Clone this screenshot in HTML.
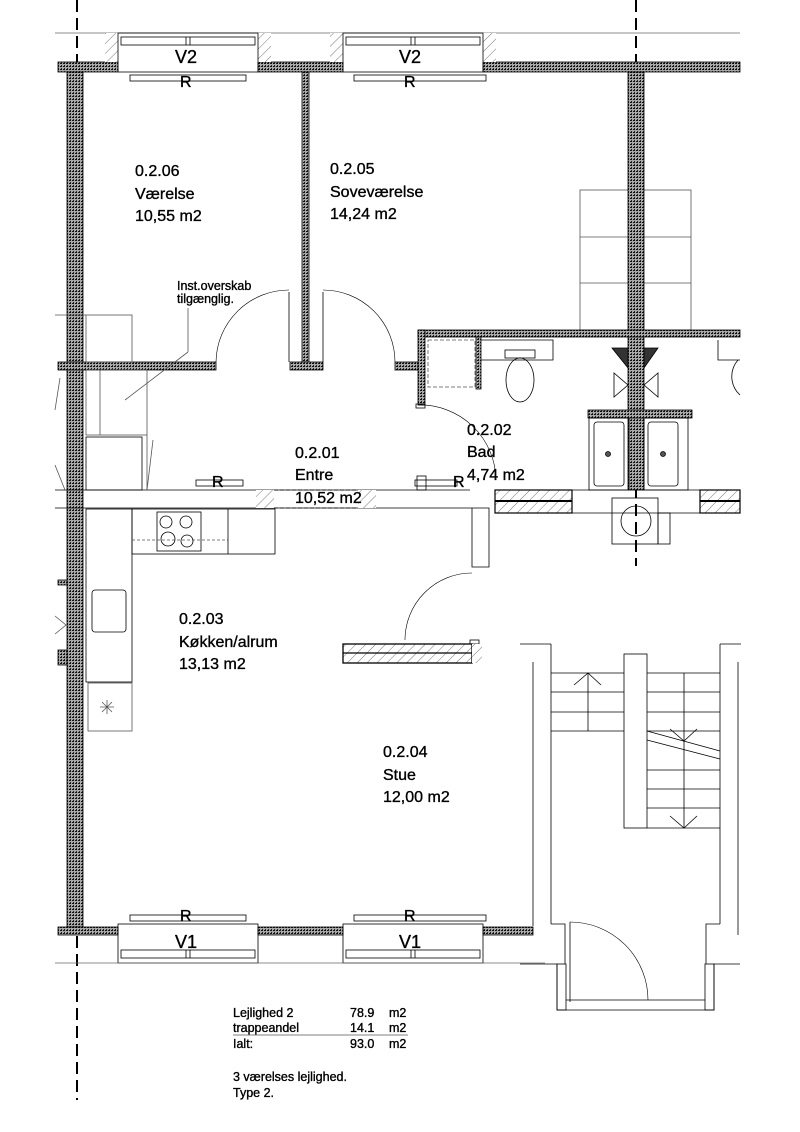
<!DOCTYPE html>
<html><head><meta charset="utf-8"><style>
html,body{margin:0;padding:0;background:#fff;}
svg{display:block;}
text{font-family:"Liberation Sans",sans-serif;fill:#000;stroke:#000;stroke-width:0.35;}
</style></head><body>
<svg width="800" height="1132" viewBox="0 0 800 1132" xmlns="http://www.w3.org/2000/svg">
<defs>
<pattern id="w" width="3" height="3" patternUnits="userSpaceOnUse"><rect width="3" height="3" fill="#a8a8a8"/><rect width="2" height="1" fill="#111"/><rect y="2" x="1" width="1" height="1" fill="#222"/></pattern>
<pattern id="h" width="7" height="7" patternUnits="userSpaceOnUse" patternTransform="rotate(45)"><rect width="7" height="7" fill="#fff"/><line x1="0" y1="0" x2="0" y2="7" stroke="#555" stroke-width="0.8"/></pattern>
</defs>
<g fill="none" stroke="#000" stroke-width="0.8">
<line x1="77" y1="0" x2="77" y2="1100" stroke-width="2" stroke-dasharray="12,6"/>
<line x1="636" y1="0" x2="636" y2="566" stroke-width="2" stroke-dasharray="12,6"/>
<line x1="55" y1="33" x2="740" y2="33" stroke="#666"/>
<rect x="58" y="62" width="60" height="10" fill="url(#w)"/>
<rect x="258" y="62" width="85" height="10" fill="url(#w)"/>
<rect x="483" y="62" width="257" height="10" fill="url(#w)"/>
<rect x="105" y="33" width="13" height="29" fill="url(#h)" stroke="none"/>
<rect x="258" y="33" width="13" height="29" fill="url(#h)" stroke="none"/>
<rect x="330" y="33" width="13" height="29" fill="url(#h)" stroke="none"/>
<rect x="483" y="33" width="13" height="29" fill="url(#h)" stroke="none"/>
<rect x="118" y="33" width="140" height="39"/>
<rect x="121" y="37" width="134" height="8"/>
<line x1="186" y1="37" x2="186" y2="45"/><line x1="190" y1="37" x2="190" y2="45"/>
<rect x="343" y="33" width="140" height="39"/>
<rect x="346" y="37" width="134" height="8"/>
<line x1="411" y1="37" x2="411" y2="45"/><line x1="415" y1="37" x2="415" y2="45"/>
<rect x="130" y="75" width="116" height="6"/>
<rect x="354" y="75" width="132" height="6"/>
<rect x="67" y="72" width="16" height="855" fill="url(#w)"/>
<line x1="55" y1="490" x2="470" y2="490"/>
<line x1="55" y1="508" x2="470" y2="508"/>
<rect x="302" y="72" width="7" height="290" fill="url(#w)"/>
<rect x="58" y="362" width="158" height="8" fill="url(#w)"/>
<rect x="290" y="362" width="33" height="8" fill="url(#w)"/>
<rect x="395" y="362" width="23" height="8" fill="url(#w)"/>
<line x1="289" y1="292" x2="289" y2="362"/>
<path d="M216 362 A73 73 0 0 1 289 290" stroke-width="0.6"/>
<line x1="323" y1="292" x2="323" y2="362"/>
<path d="M323 290 A72 72 0 0 1 395 362" stroke-width="0.6"/>
<line x1="188" y1="308" x2="188" y2="352" stroke="#555"/>
<line x1="188" y1="352" x2="125" y2="400" stroke="#555"/>
<rect x="86" y="315" width="46" height="47" stroke="#555"/>
<line x1="55" y1="315" x2="86" y2="315" stroke="#555"/>
<rect x="86" y="370" width="61" height="65" stroke="#555"/>
<line x1="100" y1="370" x2="100" y2="435" stroke="#555"/>
<rect x="86" y="437" width="56" height="53"/>
<line x1="147" y1="435" x2="147" y2="490" stroke="#555"/>
<line x1="153" y1="440" x2="147" y2="490" stroke="#555"/>
<line x1="60" y1="378" x2="55" y2="410" stroke="#555"/>
<line x1="55" y1="465" x2="65" y2="490" stroke="#555"/>
<rect x="580" y="190" width="111" height="140" stroke="#555"/>
<line x1="580" y1="237" x2="691" y2="237" stroke="#555"/>
<line x1="580" y1="283" x2="691" y2="283" stroke="#555"/>
<rect x="628" y="72" width="16" height="418" fill="url(#w)"/>
<rect x="418" y="330" width="322" height="7" fill="url(#w)"/>
<rect x="418" y="330" width="7" height="75" fill="url(#w)"/>
<rect x="476" y="337" width="5" height="52" fill="url(#w)"/>
<rect x="416" y="404" width="9" height="4"/>
<rect x="428" y="340" width="47" height="47" stroke-dasharray="4,2" stroke="#555"/>
<path d="M481 340 H553 V360 H481" />
<rect x="505" y="350" width="30" height="8"/>
<ellipse cx="520" cy="380" rx="14" ry="22"/>
<path d="M418 405 A76 76 0 0 1 496 480" stroke-width="0.6"/>
<rect x="417" y="476" width="9" height="14"/>
<rect x="588" y="410" width="104" height="8" fill="url(#w)"/>
<rect x="589" y="418" width="40" height="72"/>
<rect x="594" y="422" width="30" height="64" rx="3"/>
<rect x="644" y="418" width="44" height="72"/>
<rect x="648" y="422" width="30" height="64" rx="3"/>
<circle cx="608" cy="454" r="2.5" fill="#555"/><circle cx="663" cy="454" r="2.5" fill="#555"/>
<path d="M612 348 L628 348 L628 368Z M644 348 L658 348 L644 368Z" fill="#333"/>
<path d="M628 385 L614 373 L614 397Z M644 385 L658 373 L658 397Z"/>
<path d="M718 340 V360 H740 M738 360 A25 25 0 0 0 740 395"/>
<rect x="495" y="490" width="77" height="23" fill="url(#h)" stroke-width="1.2"/>
<line x1="495" y1="501" x2="572" y2="501" stroke-width="2"/>
<rect x="700" y="490" width="40" height="23" fill="url(#h)" stroke-width="1.2"/>
<line x1="700" y1="501" x2="740" y2="501" stroke-width="2"/>
<line x1="572" y1="490" x2="700" y2="490"/>
<line x1="572" y1="513" x2="700" y2="513"/>
<rect x="612" y="498" width="46" height="46"/>
<rect x="658" y="513" width="12" height="31"/>
<circle cx="636" cy="521" r="15"/>
<rect x="196" y="480" width="47" height="6"/>
<rect x="415" y="480" width="42" height="6"/>
<rect x="256" y="490" width="18" height="18" fill="url(#h)" stroke="none"/>
<rect x="358" y="490" width="18" height="18" fill="url(#h)" stroke="none"/>
<line x1="274" y1="490" x2="358" y2="490" stroke-dasharray="4,2"/>
<line x1="274" y1="508" x2="358" y2="508" stroke-dasharray="4,2"/>
<path d="M470 508 H489 V567 H472 V508"/>
<rect x="86" y="509" width="46" height="173"/>
<rect x="88" y="683" width="44" height="48" stroke="#555"/>
<path d="M100 707 h14 M107 700 v14 M102 702 l10 10 M112 702 l-10 10" stroke="#555"/>
<rect x="92" y="590" width="34" height="42" rx="3"/>
<rect x="132" y="509" width="143" height="45"/>
<rect x="157" y="512" width="44" height="39"/>
<line x1="132" y1="540" x2="228" y2="540" stroke-dasharray="3,2" stroke="#555"/>
<line x1="228" y1="509" x2="228" y2="554"/>
<circle cx="166" cy="522" r="6"/><circle cx="186" cy="522" r="6"/><circle cx="168" cy="539" r="7"/><circle cx="187" cy="541" r="6"/>
<rect x="343" y="644" width="129" height="19" fill="url(#h)" stroke-width="1.3"/>
<line x1="343" y1="653" x2="472" y2="653" stroke-width="1.3"/>
<path d="M405 640 A67 67 0 0 1 472 573" stroke-width="0.6"/>
<rect x="470" y="640" width="9" height="4"/>
<rect x="472" y="644" width="10" height="19" fill="url(#h)" stroke="none"/>
<path d="M55 616 L66 625 L55 634" stroke="#555"/>
<rect x="58" y="580" width="9" height="5" fill="url(#w)"/>
<rect x="58" y="650" width="9" height="15" fill="url(#w)"/>
<line x1="533" y1="662" x2="533" y2="926"/>
<line x1="520" y1="644" x2="551" y2="644"/>
<line x1="551" y1="644" x2="551" y2="924"/>
<line x1="551" y1="673" x2="624" y2="673"/><line x1="551" y1="692" x2="624" y2="692"/>
<line x1="551" y1="712" x2="624" y2="712"/><line x1="551" y1="731" x2="624" y2="731"/>
<line x1="588" y1="673" x2="588" y2="731"/>
<path d="M574 685 L588 673 L601 685"/>
<rect x="624" y="654" width="23" height="174"/>
<line x1="647" y1="673" x2="720" y2="673"/><line x1="647" y1="692" x2="720" y2="692"/>
<line x1="647" y1="712" x2="720" y2="712"/><line x1="647" y1="731" x2="720" y2="731"/>
<line x1="647" y1="770" x2="720" y2="770"/><line x1="647" y1="789" x2="720" y2="789"/>
<line x1="647" y1="808" x2="720" y2="808"/><line x1="647" y1="828" x2="720" y2="828"/>
<line x1="647" y1="731" x2="720" y2="751"/><line x1="647" y1="740" x2="720" y2="759"/>
<line x1="684" y1="673" x2="684" y2="828"/>
<path d="M670 729 L684 741 L697 729 M670 816 L684 828 L697 816"/>
<line x1="720" y1="644" x2="720" y2="924"/>
<line x1="720" y1="644" x2="741" y2="644"/>
<line x1="738" y1="662" x2="738" y2="935"/>
<path d="M551 924 H565 V964 M720 924 H706 V964"/>
<path d="M520 964 H557 V1010 H714 V964 H740"/>
<rect x="557" y="964" width="9" height="46"/>
<rect x="705" y="964" width="9" height="46"/>
<line x1="570" y1="922" x2="570" y2="1002"/>
<path d="M570 922 A78 78 0 0 1 648 1000" stroke-width="0.6"/>
<line x1="566" y1="1000" x2="705" y2="1000"/>
<rect x="58" y="927" width="60" height="8" fill="url(#w)"/>
<rect x="258" y="927" width="85" height="8" fill="url(#w)"/>
<rect x="483" y="927" width="50" height="8" fill="url(#w)"/>
<rect x="118" y="924" width="140" height="39"/>
<rect x="121" y="950" width="134" height="8"/>
<line x1="186" y1="950" x2="186" y2="958"/><line x1="190" y1="950" x2="190" y2="958"/>
<rect x="343" y="924" width="140" height="39"/>
<rect x="346" y="950" width="134" height="8"/>
<line x1="411" y1="950" x2="411" y2="958"/><line x1="415" y1="950" x2="415" y2="958"/>
<rect x="130" y="915" width="116" height="6"/>
<rect x="354" y="915" width="132" height="6"/>
<line x1="55" y1="963" x2="545" y2="963" stroke="#666"/>
<line x1="233" y1="1035" x2="408" y2="1035" stroke="#555"/>
</g>
<g font-size="16">
<text x="175" y="63" font-size="18" stroke-width="0.6">V2</text><text x="180" y="87" font-size="16" stroke-width="0.6">R</text>
<text x="399" y="63" font-size="18" stroke-width="0.6">V2</text><text x="404" y="87" font-size="16" stroke-width="0.6">R</text>
<text x="175" y="948" font-size="18" stroke-width="0.6">V1</text><text x="180" y="921" font-size="16" stroke-width="0.6">R</text>
<text x="399" y="948" font-size="18" stroke-width="0.6">V1</text><text x="404" y="921" font-size="16" stroke-width="0.6">R</text>
<text x="212" y="487" font-size="16">R</text><text x="453" y="487" font-size="16">R</text>
<text x="135" y="176">0.2.06</text><text x="135" y="199">Værelse</text><text x="135" y="221">10,55 m2</text>
<text x="330" y="174">0.2.05</text><text x="330" y="197">Soveværelse</text><text x="330" y="219">14,24 m2</text>
<text x="295" y="458">0.2.01</text><text x="295" y="480">Entre</text><text x="295" y="503">10,52 m2</text>
<text x="467" y="435">0.2.02</text><text x="467" y="457">Bad</text><text x="467" y="480">4,74 m2</text>
<text x="179" y="624">0.2.03</text><text x="179" y="647">Køkken/alrum</text><text x="179" y="669">13,13 m2</text>
<text x="383" y="757">0.2.04</text><text x="383" y="780">Stue</text><text x="383" y="802">12,00 m2</text>
</g>
<g font-size="12.5">
<text x="177" y="290">Inst.overskab</text><text x="177" y="303">tilgænglig.</text>
<text x="233" y="1017">Lejlighed 2</text><text x="350" y="1017">78.9</text><text x="389" y="1017">m2</text>
<text x="233" y="1032">trappeandel</text><text x="350" y="1032">14.1</text><text x="389" y="1032">m2</text>
<text x="233" y="1048">Ialt:</text><text x="350" y="1048">93.0</text><text x="389" y="1048">m2</text>
<text x="233" y="1081">3 værelses lejlighed.</text><text x="233" y="1097">Type 2.</text>
</g>
</svg>
</body></html>
